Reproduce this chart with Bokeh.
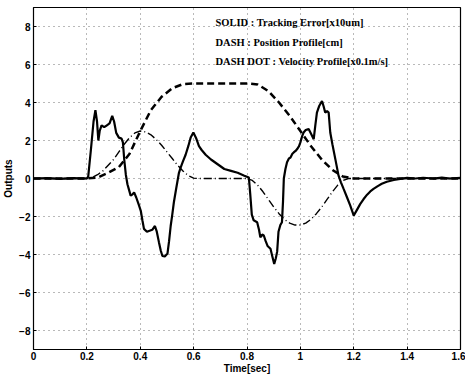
from bokeh.plotting import figure
from bokeh.models import Range1d, Label, FixedTicker
from bokeh.embed import file_html
from bokeh.resources import INLINE

# Tracking error [x10um] (solid)
err_t = [0.00, 0.05, 0.10, 0.15, 0.20, 0.205, 0.215, 0.225, 0.232, 0.238, 0.243, 0.248, 0.255,
         0.265, 0.275, 0.285, 0.295, 0.302, 0.31, 0.32, 0.33, 0.335, 0.34, 0.346, 0.352, 0.358,
         0.364, 0.37, 0.377, 0.385, 0.395, 0.402, 0.408, 0.414, 0.425, 0.435, 0.445, 0.455,
         0.462, 0.47, 0.477, 0.483, 0.492, 0.502, 0.508, 0.514, 0.52, 0.526, 0.535, 0.545,
         0.552, 0.56, 0.57, 0.58, 0.589, 0.599, 0.61, 0.62, 0.63, 0.645, 0.665, 0.69, 0.715,
         0.74, 0.765, 0.79, 0.807, 0.812, 0.818, 0.825, 0.838, 0.845, 0.85, 0.857, 0.863, 0.87,
         0.877, 0.888, 0.895, 0.902, 0.908, 0.913, 0.918, 0.925, 0.931, 0.935, 0.938, 0.944,
         0.95, 0.957, 0.963, 0.97, 0.975, 0.982, 0.988, 0.995, 1.0, 1.006, 1.012, 1.02, 1.031,
         1.04, 1.05, 1.056, 1.062, 1.07, 1.081, 1.087, 1.093, 1.1, 1.106, 1.112, 1.12, 1.131,
         1.143, 1.152, 1.162, 1.175, 1.187, 1.2, 1.212, 1.224, 1.237, 1.25, 1.262, 1.274, 1.29,
         1.305, 1.324, 1.35, 1.374, 1.4, 1.43, 1.46, 1.5, 1.53, 1.56, 1.6]
err_v = [0.0, 0.02, -0.02, 0.02, 0.0, 0.1, 1.5, 3.0, 3.6, 3.0, 2.0, 2.5, 2.8,
         2.7, 2.8, 2.9, 3.3, 3.0, 2.4, 2.15, 2.1, 1.9, 1.0, 0.2, -0.3, -0.6,
         -0.9, -0.85, -0.73, -1.0, -1.4, -1.7, -2.2, -2.65, -2.8, -2.75, -2.7, -2.5,
         -2.8, -3.35, -3.8, -4.08, -4.1, -3.95, -3.3, -2.5, -1.9, -1.25, -0.5, 0.3,
         0.6, 0.9, 1.25, 1.7, 2.16, 2.42, 2.1, 1.7, 1.5, 1.25, 1.0, 0.75, 0.5,
         0.4, 0.3, 0.15, 0.05, -0.8, -1.9, -2.2, -2.3, -2.7, -3.1, -2.95, -3.0, -3.3,
         -3.55, -3.7, -4.1, -4.5, -4.2, -3.85, -2.8, -2.45, -2.3, -1.2, 0.0, 0.5,
         0.85, 1.05, 1.1, 1.3, 1.37, 1.45, 1.55, 1.7, 1.9, 2.2, 2.42, 2.55, 2.6,
         2.35, 2.07, 2.8, 3.47, 3.8, 4.08, 3.8, 3.47, 3.55, 3.47, 2.42, 1.8, 1.02,
         0.15, -0.2, -0.55, -1.0, -1.43, -1.95, -1.65, -1.35, -1.08, -0.85, -0.68, -0.55, -0.4,
         -0.28, -0.17, -0.08, -0.02, 0.03, 0.0, 0.04, 0.0, 0.05, 0.0, 0.03]

# Position profile [cm] (dash)
pos_t = [0.0, 0.20, 0.24, 0.28, 0.32, 0.36, 0.40, 0.44, 0.48, 0.52, 0.56, 0.60,
         0.80, 0.84, 0.88, 0.92, 0.96, 1.00, 1.04, 1.08, 1.12, 1.16, 1.20, 1.6]
pos_v = [0.0, 0.0, 0.05, 0.3, 0.6, 1.3, 2.5, 3.6, 4.3, 4.75, 4.97, 5.0,
         5.0, 4.95, 4.6, 4.0, 3.3, 2.5, 1.7, 1.0, 0.45, 0.1, 0.0, 0.0]

# Velocity profile [x0.1 m/s] (dash-dot)
vel_t = [0.0, 0.20, 0.22, 0.24, 0.26, 0.28, 0.30, 0.32, 0.34, 0.36, 0.38, 0.40, 0.42,
         0.44, 0.46, 0.48, 0.50, 0.52, 0.54, 0.56, 0.58, 0.60, 0.62, 0.80, 0.82, 0.84,
         0.86, 0.88, 0.90, 0.92, 0.94, 0.96, 0.98, 1.00, 1.02, 1.04, 1.06, 1.08, 1.10,
         1.12, 1.14, 1.16, 1.18, 1.6]
vel_v = [0.0, 0.0, 0.05, 0.2, 0.4, 0.7, 1.0, 1.4, 1.8, 2.15, 2.4, 2.5, 2.45,
         2.3, 2.05, 1.75, 1.4, 1.05, 0.7, 0.4, 0.15, 0.02, 0.0, 0.0, -0.1, -0.35,
         -0.7, -1.1, -1.5, -1.85, -2.15, -2.35, -2.45, -2.45, -2.35, -2.15, -1.85, -1.5, -1.1,
         -0.7, -0.35, -0.1, 0.0, 0.0]

x_ticks = [0, 0.2, 0.4, 0.6, 0.8, 1.0, 1.2, 1.4, 1.6]
y_ticks = [-8, -6, -4, -2, 0, 2, 4, 6, 8]
legend_lines = ["SOLID  :  Tracking Error[x10um]",
                "DASH  :  Position Profile[cm]",
                "DASH DOT  :  Velocity Profile[x0.1m/s]"]

p = figure(width=465, height=378, output_backend="svg", toolbar_location=None,
           x_range=Range1d(0, 1.6), y_range=Range1d(-9, 9),
           min_border_left=32, min_border_right=5, min_border_top=7, min_border_bottom=29)
p.background_fill_color = "white"
p.border_fill_color = "white"
p.outline_line_color = "black"
p.outline_line_width = 1.2

p.xaxis.ticker = FixedTicker(ticks=x_ticks)
p.yaxis.ticker = FixedTicker(ticks=y_ticks)
p.xaxis.major_label_overrides = {0: "0", 0.2: "0.2", 0.4: "0.4", 0.6: "0.6", 0.8: "0.8",
                                 1.0: "1", 1.2: "1.2", 1.4: "1.4", 1.6: "1.6"}
for ax in (p.xaxis[0], p.yaxis[0]):
    ax.major_tick_in = 3
    ax.major_tick_out = 0
    ax.minor_tick_in = 0
    ax.minor_tick_out = 0
    ax.axis_line_color = "black"
    ax.major_label_text_font = "Liberation Sans"
    ax.major_label_text_font_style = "bold"
    ax.major_label_text_font_size = "10px"
    ax.major_label_text_color = "black"
    ax.axis_label_text_font = "Liberation Sans"
    ax.axis_label_text_font_style = "bold"
    ax.axis_label_text_font_size = "10px"
    ax.axis_label_text_color = "black"
    ax.axis_label_standoff = 2
    ax.major_label_standoff = 3

p.xaxis.axis_label = "Time[sec]"
p.yaxis.axis_label = "Outputs"
p.xaxis.axis_label_standoff = 0
p.xaxis.major_label_standoff = 2

p.grid.grid_line_color = "black"
p.grid.grid_line_alpha = 0.55
p.grid.grid_line_dash = "1 4"
p.grid.grid_line_width = 1

p.line(vel_t, vel_v, line_color="black", line_width=1.4, line_dash="8 3 1 3")
p.line(pos_t, pos_v, line_color="black", line_width=2.5, line_dash="7 4")
p.line(err_t, err_v, line_color="black", line_width=2.2)

for i, t in enumerate(legend_lines):
    p.add_layout(Label(x=0.682, y=8.2 - i * 1.02, text=t, text_font="Liberation Serif",
                       text_font_style="bold", text_font_size="10.5px", text_color="black",
                       text_baseline="middle"))

open("out.html", "w").write(file_html(p, INLINE))
